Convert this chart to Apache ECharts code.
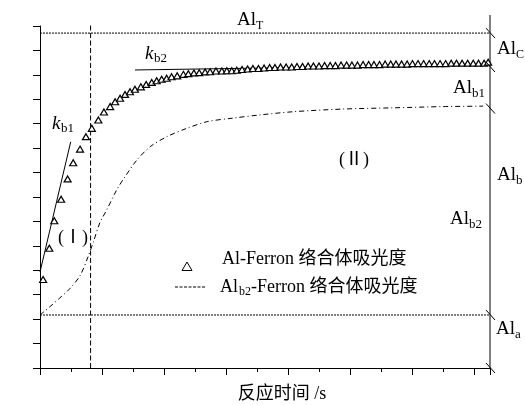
<!DOCTYPE html>
<html><head><meta charset="utf-8">
<script src="https://cdn.jsdelivr.net/npm/echarts@6/dist/echarts.min.js"></script>
<style>html,body{margin:0;padding:0;background:#fff}#c{width:525px;height:405px}</style>
</head><body><div id="c"></div>
<script>
// Al-Ferron complex absorbance (triangles)
const times = [0.10,0.30,0.46,0.68,0.89,1.07,1.29,1.48,1.67,1.88,2.06,2.26,2.42,2.58,2.74,2.90,3.06,3.25,3.42,3.60,3.76,3.92,4.08,4.24,4.42,4.62,4.78,4.96,5.13,5.32,5.48,5.67,5.86,6.02,6.18,6.34,6.51,6.69,6.86,7.04,7.22,7.40,7.57,7.75,7.93,8.11,8.28,8.46,8.64,8.81,8.99,9.17,9.35,9.52,9.70,9.88,10.05,10.23,10.41,10.59,10.76,10.94,11.12,11.30,11.47,11.65,11.83,12.00,12.18,12.36,12.54,12.71,12.89,13.07,13.25,13.42,13.60,13.78,13.96,14.13,14.31,14.44];
const absorbance = [3.62,4.90,6.03,6.91,7.74,8.40,8.96,9.47,9.81,10.15,10.48,10.70,10.90,11.04,11.20,11.31,11.41,11.51,11.61,11.69,11.76,11.82,11.86,11.92,11.96,12.02,12.05,12.08,12.09,12.12,12.13,12.16,12.16,12.17,12.17,12.19,12.22,12.24,12.26,12.26,12.28,12.30,12.30,12.32,12.32,12.32,12.34,12.34,12.36,12.36,12.36,12.38,12.38,12.38,12.40,12.40,12.40,12.40,12.42,12.42,12.42,12.42,12.44,12.44,12.44,12.44,12.44,12.46,12.46,12.46,12.46,12.46,12.46,12.46,12.48,12.48,12.48,12.48,12.48,12.48,12.48,12.52];
// Al_b2-Ferron complex absorbance (dash-dot curve)
const b2Times = [0,0.32,0.64,0.97,1.29,1.55,1.73,1.93,2.15,2.47,2.74,3.12,3.55,4.09,4.73,5.37,6.22,7.09,8.15,9.76,11.38,12.99,14.28];
const b2Absorbance = [2.17,2.51,2.87,3.26,3.78,4.56,5.20,5.95,6.47,7.29,7.83,8.51,9.06,9.47,9.81,10.08,10.23,10.36,10.49,10.60,10.65,10.70,10.72];
// tangent lines
const kb1Times = [0, 0.99];
const kb1Absorbance = [3.93, 9.26];
const kb2Times = [3.06, 14.5];
const kb2Absorbance = [12.20, 12.42];
// reference levels
const levelAlT = 13.71;
const levelAlA = 2.17;
const levelAlC = 12.32;
const levelAlB1 = 10.62;
const stageBoundary = 1.63;
const xMax = 14.5, yMax = 14;
const breakLevels = [levelAlT, levelAlC, levelAlB1, levelAlA, 0];

const FONT = '"Liberation Serif","Noto Sans CJK SC",serif';
const BLACK = '#000';
const zip = (a, b) => a.map((v, i) => [v, b[i]]);

const chart = echarts.init(document.getElementById('c'), null, {renderer: 'canvas'});

const lineSeries = (data, type, extra) => Object.assign({
  type: 'line', data, symbol: 'none', silent: true, clip: false, animation: false,
  lineStyle: {color: BLACK, width: 1, type}
}, extra || {});

chart.setOption({
  animation: false,
  backgroundColor: '#fff',
  grid: {left: 40, right: 35, top: 26, bottom: 37},
  xAxis: {
    type: 'value', min: 0, max: xMax, interval: 2,
    axisLine: {show: true, onZero: false, lineStyle: {color: BLACK, width: 1}},
    axisTick: {show: true, length: 7, lineStyle: {color: BLACK, width: 1}},
    minorTick: {show: true, splitNumber: 2, length: 4, lineStyle: {color: BLACK, width: 1}},
    axisLabel: {show: false}, splitLine: {show: false}, minorSplitLine: {show: false}
  },
  yAxis: {
    type: 'value', min: 0, max: yMax, interval: 1,
    axisLine: {show: true, onZero: false, lineStyle: {color: BLACK, width: 1}},
    axisTick: {show: true, length: 7, lineStyle: {color: BLACK, width: 1}},
    axisLabel: {show: false}, splitLine: {show: false}
  },
  series: [
    lineSeries([[0, levelAlT], [xMax, levelAlT]], [2, 1]),
    lineSeries([[0, levelAlA], [xMax, levelAlA]], [2, 1]),
    lineSeries([[stageBoundary, 0], [stageBoundary, 14.12]], [5, 2.5]),
    lineSeries([[xMax, 0], [xMax, 14.45]], 'solid'),
    lineSeries(zip(b2Times, b2Absorbance), [5, 3, 1, 3], {smooth: 0.3}),
    lineSeries(zip(kb1Times, kb1Absorbance), 'solid'),
    lineSeries(zip(kb2Times, kb2Absorbance), 'solid'),
    {
      type: 'scatter', data: zip(times, absorbance), symbol: 'triangle', symbolSize: [7, 6],
      itemStyle: {color: '#fff', borderColor: BLACK, borderWidth: 1.2, opacity: 1},
      silent: true, z: 5, animation: false, clip: false
    }
  ]
});

// text helpers
function txt(x, y, s, size, opts) {
  return Object.assign({
    type: 'text', x, y, silent: true, z: 10,
    style: Object.assign({text: s, font: size + 'px ' + FONT, fill: BLACK, align: 'left', verticalAlign: 'middle'}, (opts && opts.style) || {})
  }, (opts && opts.el) || {});
}
function sub(x, y, main, s, opts) {
  opts = opts || {};
  const size = opts.size || 19, subSize = opts.subSize || 13;
  const w = opts.mainW || 19;
  const mainFont = (opts.italic ? 'italic ' : '') + size + 'px ' + FONT;
  return [
    {type: 'text', x, y, silent: true, z: 10, style: {text: main, font: mainFont, fill: BLACK, align: 'left', verticalAlign: 'middle'}},
    txt(x + w, y + (opts.dy || 6), s, subSize)
  ];
}

const g = [];
// break marks on the right boundary
breakLevels.forEach(v => {
  const p = chart.convertToPixel({gridIndex: 0}, [xMax, v]);
  g.push({type: 'line', silent: true, z: 10, shape: {x1: p[0] - 4, y1: p[1] - 5, x2: p[0] + 5, y2: p[1] + 5}, style: {stroke: BLACK, lineWidth: 1}});
});
// right-hand labels
g.push(...sub(237, 20, 'Al', 'T', {dy: 6, subSize: 12}));
g.push(...sub(497, 49, 'Al', 'C', {dy: 6, subSize: 12}));
g.push(...sub(453, 88, 'Al', 'b1', {dy: 6}));
g.push(...sub(497, 175, 'Al', 'b', {dy: 6}));
g.push(...sub(450, 219, 'Al', 'b2', {dy: 6}));
g.push(...sub(496, 329, 'Al', 'a', {dy: 6}));
// slopes
g.push(...sub(52, 124, 'k', 'b1', {italic: true, mainW: 9, dy: 5, size: 19}));
g.push(...sub(145, 54, 'k', 'b2', {italic: true, mainW: 9, dy: 5, size: 19}));
// stage labels
g.push(txt(73, 238, '(Ⅰ)', 18, {style: {align: 'center'}}));
g.push(txt(354, 160, '(Ⅱ)', 18, {style: {align: 'center'}}));
// legend
g.push({type: 'polygon', silent: true, z: 10, shape: {points: [[187, 262], [182, 270.5], [192, 270.5]]}, style: {fill: '#fff', stroke: BLACK, lineWidth: 1}});
g.push(txt(222, 259, 'Al-Ferron 络合体吸光度', 18));
g.push({type: 'line', silent: true, z: 10, shape: {x1: 175, y1: 287, x2: 205, y2: 287}, style: {stroke: BLACK, lineWidth: 1, lineDash: [3, 1.5]}});
g.push(...sub(220, 287, 'Al', 'b2', {size: 18, mainW: 19, dy: 5, subSize: 12}));
g.push(txt(251, 287, '-Ferron 络合体吸光度', 18));
// axis titles
g.push(txt(282, 394, '反应时间 /s', 18, {style: {align: 'center'}}));
g.push(txt(14, 185, '吸光度', 19, {style: {align: 'center'}, el: {rotation: Math.PI / 2, originX: 14, originY: 185}}));

chart.setOption({graphic: {elements: g}});
</script></body></html>
